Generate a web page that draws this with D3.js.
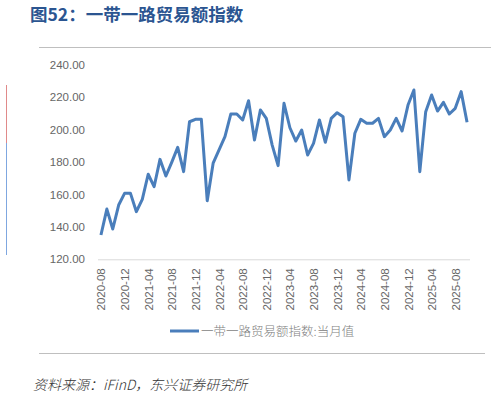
<!DOCTYPE html>
<html>
<head>
<meta charset="utf-8">
<script src="https://cdn.jsdelivr.net/npm/d3@7"></script>
<style>
  body { margin: 0; background: #fff; }
  svg { display: block; }
</style>
</head>
<body>
<script>
// categories: monthly from 2020-08 to 2025-10
var startMonth = "2020-08";
var endMonth = "2025-10";
var parseMonth = d3.timeParse("%Y-%m");
var fmtMonth = d3.timeFormat("%Y-%m");
var months = d3.timeMonth.range(parseMonth(startMonth), d3.timeMonth.offset(parseMonth(endMonth), 1)).map(fmtMonth);

// 一带一路贸易额指数:当月值
var tradeIndex = [
  135.0, 151.0, 138.7, 153.5, 160.7, 160.7, 149.4, 157.0, 172.5, 164.8,
  181.7, 171.4, 180.0, 189.1, 174.1, 204.9, 206.4, 206.4, 156.2, 179.3,
  187.5, 195.7, 209.7, 209.7, 206.0, 217.9, 193.6, 212.2, 207.0, 190.5,
  177.8, 216.3, 201.2, 193.0, 199.8, 184.4, 191.6, 206.0, 192.2, 207.0,
  210.5, 208.0, 169.0, 197.8, 206.4, 204.0, 204.0, 207.0, 195.7, 199.8,
  207.0, 199.2, 215.2, 224.5, 174.1, 211.1, 221.4, 211.5, 216.9, 209.7,
  213.2, 223.5, 204.6
];

var yTicks = [120, 140, 160, 180, 200, 220, 240];
var xTickLabels = months.filter(function (d, i) { return i % 4 === 0; });

var titleText = "图52：一带一路贸易额指数";
var seriesName = "一带一路贸易额指数:当月值";
var sourceText = "资料来源：iFinD，东兴证券研究所";

var width = 491, height = 399;
var plot = {left: 98, right: 470, top: 64.9, bottom: 259.3};

var svg = d3.select("body").append("svg")
    .attr("width", width)
    .attr("height", height);

// page decorations (side marks)
svg.append("line")
    .attr("x1", 6.5).attr("x2", 6.5).attr("y1", 85).attr("y2", 143)
    .attr("stroke", "#e08a8a").attr("stroke-width", 1);
svg.append("line")
    .attr("x1", 6.5).attr("x2", 6.5).attr("y1", 143).attr("y2", 255)
    .attr("stroke", "#7fa7e0").attr("stroke-width", 1);

// title
svg.append("text")
    .attr("x", 30)
    .attr("y", 21)
    .attr("fill", "#2b5591")
    .attr("font-family", "'Noto Sans CJK SC', sans-serif")
    .attr("font-weight", "bold")
    .attr("font-size", 17.5)
    .text(titleText);

// frame lines
svg.append("line")
    .attr("x1", 39).attr("x2", width).attr("y1", 47.5).attr("y2", 47.5)
    .attr("stroke", "#bfbfbf").attr("stroke-width", 1);
svg.append("line")
    .attr("x1", 39).attr("x2", 485).attr("y1", 353.5).attr("y2", 353.5)
    .attr("stroke", "#bfbfbf").attr("stroke-width", 1);

var x = d3.scalePoint()
    .domain(months)
    .range([plot.left, plot.right])
    .padding(0.5);

var y = d3.scaleLinear()
    .domain([120, 240])
    .range([plot.bottom, plot.top]);

// y axis labels
var yAxis = svg.append("g")
    .attr("transform", "translate(85,0)")
    .call(d3.axisLeft(y).tickValues(yTicks).tickSize(0).tickPadding(0).tickFormat(d3.format(".2f")));
yAxis.select(".domain").remove();
yAxis.selectAll("text")
    .attr("fill", "#666")
    .attr("font-family", "'Liberation Sans', Arial, sans-serif")
    .attr("font-size", 11.5);

// x axis
var xAxis = svg.append("g")
    .attr("transform", "translate(0," + plot.bottom + ")")
    .call(d3.axisBottom(x).tickValues(xTickLabels).tickSize(0).tickPadding(0));
xAxis.select(".domain")
    .attr("d", "M" + plot.left + ",0.5H" + plot.right)
    .attr("stroke", "#d9d9d9");
xAxis.selectAll("text")
    .attr("fill", "#666")
    .attr("font-family", "'Liberation Sans', Arial, sans-serif")
    .attr("font-size", 11.5)
    .attr("text-anchor", "end")
    .attr("dy", "0.35em")
    .attr("transform", "translate(0,9) rotate(-90)")
    .attr("y", 0)
    .attr("x", 0);

// series line
var line = d3.line()
    .x(function (d, i) { return x(months[i]); })
    .y(function (d) { return y(d); });

svg.append("path")
    .datum(tradeIndex)
    .attr("fill", "none")
    .attr("stroke", "#4a7ebb")
    .attr("stroke-width", 3)
    .attr("stroke-linejoin", "round")
    .attr("d", line);

// legend
svg.append("line")
    .attr("x1", 170).attr("x2", 199).attr("y1", 331).attr("y2", 331)
    .attr("stroke", "#4a7ebb").attr("stroke-width", 3);
svg.append("text")
    .attr("x", 201)
    .attr("y", 335.5)
    .attr("fill", "#808080")
    .attr("font-family", "'Noto Sans CJK SC', sans-serif")
    .attr("font-weight", 300)
    .attr("font-size", 12.5)
    .text(seriesName);

// source
svg.append("text")
    .attr("x", 33)
    .attr("y", 390)
    .attr("fill", "#333")
    .attr("font-family", "'Noto Sans CJK SC', sans-serif")
    .attr("font-style", "italic")
    .attr("font-weight", 300)
    .attr("font-size", 14)
    .text(sourceText);
</script>
</body>
</html>
